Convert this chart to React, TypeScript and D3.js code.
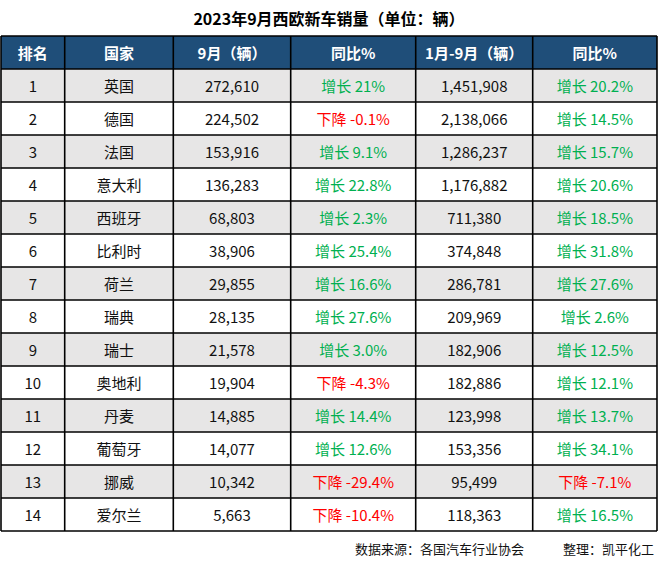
import React from "react";
import * as d3 from "d3";

const title = "2023年9月西欧新车销量（单位：辆）";
const headers = ["排名", "国家", "9月（辆）", "同比%", "1月-9月（辆）", "同比%"];
const ranks = [1, 2, 3, 4, 5, 6, 7, 8, 9, 10, 11, 12, 13, 14];
const countries = ["英国", "德国", "法国", "意大利", "西班牙", "比利时", "荷兰", "瑞典", "瑞士", "奥地利", "丹麦", "葡萄牙", "挪威", "爱尔兰"];
const sepSales = [272610, 224502, 153916, 136283, 68803, 38906, 29855, 28135, 21578, 19904, 14885, 14077, 10342, 5663];
const sepYoY = ["21", "-0.1", "9.1", "22.8", "2.3", "25.4", "16.6", "27.6", "3.0", "-4.3", "14.4", "12.6", "-29.4", "-10.4"];
const ytdSales = [1451908, 2138066, 1286237, 1176882, 711380, 374848, 286781, 209969, 182906, 182886, 123998, 153356, 95499, 118363];
const ytdYoY = ["20.2", "14.5", "15.7", "20.6", "18.5", "31.8", "27.6", "2.6", "12.5", "12.1", "13.7", "34.1", "-7.1", "16.5"];
const sourceNote = "数据来源：各国汽车行业协会";
const authorNote = "整理：凯平化工";

const W = 659;
const H = 565;
const colEdges = [1, 64.7, 173.3, 290.7, 415.7, 532.7, 657];
const headerTop = 36;
const headerBottom = 69;
const tableBottom = 531;
const font = "'Noto Sans CJK SC', 'Noto Sans', sans-serif";
const GREEN = "#00B050";
const RED = "#FF0000";

const fmt = d3.format(",");
const yoyLabel = (v: string) => (v.startsWith("-") ? `下降 ${v}%` : `增长 ${v}%`);
const yoyColor = (v: string) => (v.startsWith("-") ? RED : GREEN);

export default function App() {
  const y = d3.scaleBand<number>().domain(ranks.map((_, i) => i)).range([headerBottom, tableBottom]).padding(0);
  const cx = (c: number) => (colEdges[c] + colEdges[c + 1]) / 2;

  const rows = ranks.map((r, i) => [
    { t: String(r), c: "#111" },
    { t: countries[i], c: "#111" },
    { t: fmt(sepSales[i]), c: "#111" },
    { t: yoyLabel(sepYoY[i]), c: yoyColor(sepYoY[i]) },
    { t: fmt(ytdSales[i]), c: "#111" },
    { t: yoyLabel(ytdYoY[i]), c: yoyColor(ytdYoY[i]) },
  ]);

  return (
    <svg width={W} height={H} style={{ position: "absolute", left: 0, top: 0, background: "#fff" }} fontFamily={font}>
      <rect x={0} y={0} width={W} height={H} fill="#fff" />
      <text x={329} y={18} textAnchor="middle" dominantBaseline="central" fontSize={16} fontWeight="bold" fill="#000">
        {title}
      </text>
      <rect x={colEdges[0]} y={headerTop} width={colEdges[6] - colEdges[0]} height={headerBottom - headerTop} fill="#1F4E79" />
      {headers.map((h, c) => (
        <text key={h + c} x={cx(c)} y={(headerTop + headerBottom) / 2} textAnchor="middle" dominantBaseline="central" fontSize={15} fontWeight="bold" fill="#fff">
          {h}
        </text>
      ))}
      {rows.map((cells, i) => (
        <g key={i}>
          <rect x={colEdges[0]} y={y(i)!} width={colEdges[6] - colEdges[0]} height={y.bandwidth()} fill={i % 2 === 0 ? "#E7E6E6" : "#FFFFFF"} />
          {cells.map((cell, c) => (
            <text key={c} x={cx(c)} y={y(i)! + y.bandwidth() / 2} textAnchor="middle" dominantBaseline="central" fontSize={15} fill={cell.c}>
              {cell.t}
            </text>
          ))}
        </g>
      ))}
      {[headerTop, headerBottom, ...ranks.map((_, i) => y(i)! + y.bandwidth())].map((yy, i) => (
        <line key={"h" + i} x1={colEdges[0]} x2={colEdges[6]} y1={yy} y2={yy} stroke="#000" strokeWidth={1.6} />
      ))}
      {colEdges.map((xx, i) => (
        <line key={"v" + i} x1={xx} x2={xx} y1={headerTop} y2={tableBottom} stroke="#000" strokeWidth={1.6} />
      ))}
      <text x={355} y={548} dominantBaseline="central" fontSize={13} fill="#111">{sourceNote}</text>
      <text x={563} y={548} dominantBaseline="central" fontSize={13} fill="#111">{authorNote}</text>
    </svg>
  );
}
